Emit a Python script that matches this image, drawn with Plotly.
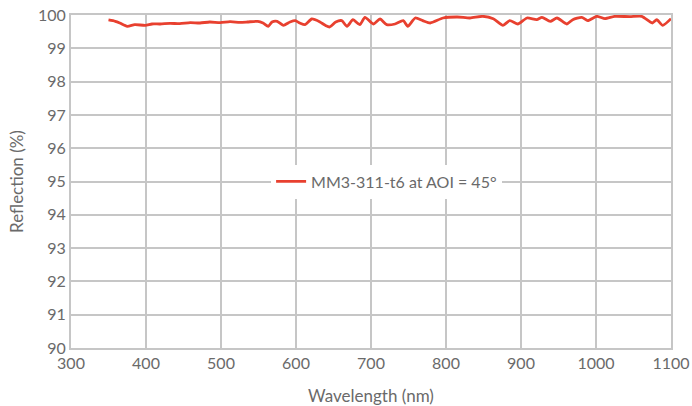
import plotly.graph_objects as go

wavelength = [350, 359, 365, 375, 385, 399, 408, 419, 432, 445, 459, 472, 485, 499, 512, 525, 535,
              549, 556, 563, 568, 575, 583, 592, 599, 605, 612, 621, 632, 639, 645, 653, 661, 668,
              676, 685, 692, 703, 712, 721, 732, 743, 749, 759, 769, 779, 796, 815, 832, 849, 863,
              876, 885, 896, 908, 921, 928, 939, 948, 961, 969, 981, 989, 1001, 1012, 1025, 1045,
              1061, 1075, 1081, 1089, 1100]
reflection = [99.85, 99.81, 99.76, 99.66, 99.71, 99.69, 99.73, 99.73, 99.75, 99.74, 99.77, 99.76,
              99.79, 99.77, 99.80, 99.78, 99.79,
              99.81, 99.76, 99.66, 99.79, 99.81, 99.69, 99.79, 99.83, 99.76, 99.71, 99.88, 99.79,
              99.69, 99.64, 99.79, 99.83, 99.66, 99.86, 99.71, 99.93, 99.73, 99.88, 99.71, 99.73,
              99.83, 99.66, 99.91, 99.83, 99.76, 99.91, 99.94, 99.91, 99.96, 99.89,
              99.69, 99.83, 99.73, 99.91, 99.86, 99.93, 99.81, 99.91, 99.73, 99.86, 99.93, 99.83,
              99.96, 99.89, 99.96, 99.95, 99.96, 99.76, 99.86, 99.69, 99.89]

x_ticks = [300, 400, 500, 600, 700, 800, 900, 1000, 1100]
y_ticks = [90, 91, 92, 93, 94, 95, 96, 97, 98, 99, 100]

series_name = "MM3-311-t6 at AOI = 45°"

grey = "#c6c6c6"
text_grey = "#6a6a6a"
font_family = "Lato, 'Open Sans', sans-serif"

fig = go.Figure()
fig.add_trace(go.Scatter(
    x=wavelength, y=reflection, mode="lines", name=series_name,
    line=dict(color="#e8402f", width=2.8, shape="spline", smoothing=0.6),
    showlegend=True, hoverinfo="skip",
))

fig.update_layout(
    width=692, height=406,
    margin=dict(l=71, r=21, t=15, b=58, autoexpand=False),
    paper_bgcolor="white", plot_bgcolor="white",
    font=dict(family=font_family, size=16, color=text_grey),
    showlegend=True,
    legend=dict(
        x=0.526, y=0.5, xanchor="center", yanchor="middle",
        bgcolor="white", borderwidth=0,
        font=dict(family=font_family, size=16, color=text_grey),
        itemwidth=30,
    ),
    xaxis=dict(
        range=[300, 1100], tickvals=x_ticks, ticktext=[str(v) for v in x_ticks],
        showgrid=True, gridcolor=grey, gridwidth=2,
        showline=True, linecolor=grey, linewidth=2, mirror=True,
        zeroline=False, ticks="", automargin=False, ticklabeloverflow="allow",
        title=dict(text="Wavelength (nm)", font=dict(size=17, color=text_grey), standoff=19),
        tickfont=dict(size=16, color=text_grey),
    ),
    yaxis=dict(
        range=[90, 100], tickvals=y_ticks, ticktext=[str(v) for v in y_ticks],
        showgrid=True, gridcolor=grey, gridwidth=2,
        showline=True, linecolor=grey, linewidth=2, mirror=True,
        zeroline=False, ticks="", automargin=False, ticklabeloverflow="allow",
        title=dict(text="Reflection (%)", font=dict(size=17, color=text_grey), standoff=10),
        tickfont=dict(size=16, color=text_grey),
    ),
)

fig.write_html(
    "out.html",
    config={"displayModeBar": False},
    post_script="document.body.style.margin='0';document.body.style.overflow='hidden';",
)
